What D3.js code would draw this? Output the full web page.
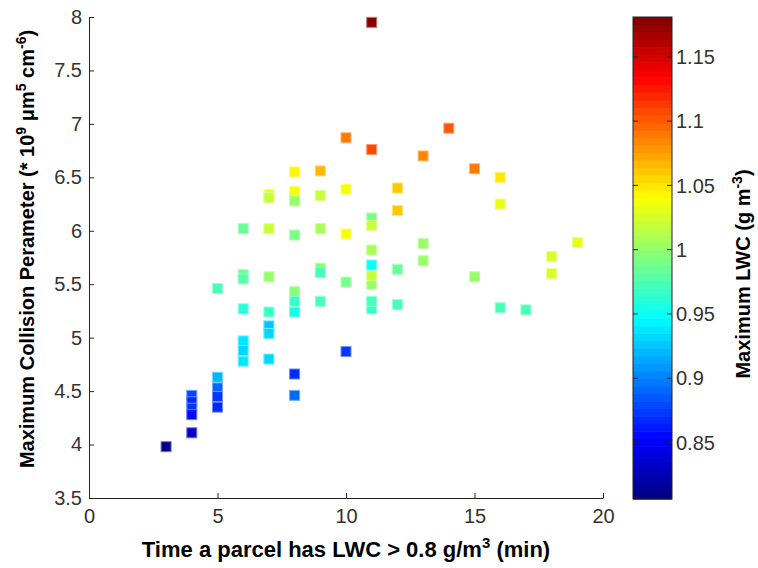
<!DOCTYPE html>
<html>
<head>
<meta charset="utf-8">
<script src="https://cdn.jsdelivr.net/npm/d3@7"></script>
<style>
  body{margin:0;background:#fff;}
  svg text{font-family:"Liberation Sans",Arial,sans-serif;}
</style>
</head>
<body>
<svg id="svg" width="758" height="568"></svg>
<script>
// time (min) each parcel has LWC > 0.8
var timeMin=[3,4,4,4,4,4,5,5,5,5,5,
  6,6,6,6,6,6,6,7,7,7,7,7,7,7,7,
  8,8,8,8,8,8,8,8,8,9,9,9,9,9,9,
  10,10,10,10,10,11,11,11,11,11,11,11,11,11,11,
  12,12,12,12,13,13,13,14,15,15,16,16,16,17,18,18,19]
// max collision parameter (*10^9)
var collisionParam=[3.98,4.46,4.40,4.34,4.28,4.11,4.63,4.53,4.45,4.35,5.46,
  6.02,5.59,5.55,5.27,4.97,4.88,4.78,6.34,6.31,6.02,5.57,5.24,5.11,5.04,4.80,
  6.55,6.37,6.28,5.96,5.43,5.34,5.24,4.66,4.46,6.56,6.33,6.02,5.65,5.61,5.34,
  6.87,6.39,5.97,5.52,4.87,7.95,6.76,6.12,6.05,5.82,5.27,5.34,5.50,5.58,5.68,
  6.40,6.19,5.64,5.31,6.70,5.88,5.72,6.96,6.58,5.57,6.50,6.25,5.28,5.26,5.76,5.60,5.89]
// max LWC (g m-3), colour
var maxLWC=[0.81,0.88,0.87,0.875,0.855,0.835,0.92,0.89,0.875,0.87,0.975,
  0.985,0.985,0.98,0.96,0.94,0.93,0.935,1.04,1.02,1.02,1.0,0.97,0.925,0.93,0.93,
  1.045,1.04,1.0,0.99,0.995,0.97,0.955,0.865,0.89,1.065,1.02,1.01,0.995,0.975,0.975,
  1.09,1.04,1.04,0.99,0.875,1.18,1.105,0.99,1.02,1.01,0.97,0.975,1.0,1.02,0.947,
  1.06,1.06,0.985,0.975,1.085,1.0,1.0,1.10,1.09,1.005,1.05,1.03,0.975,0.975,1.025,1.025,1.03]

var xTicks=[0,5,10,15,20]
var yTicks=[3.5,4,4.5,5,5.5,6,6.5,7,7.5,8]
var cbTicks=[0.85,0.9,0.95,1,1.05,1.1,1.15]
var cMin=0.806,cMax=1.181

var svg=d3.select("#svg")
var mLeft=89,mRight=603,mTop=17,mBottom=498

var x=d3.scaleLinear().domain([0,20]).range([mLeft,mRight])
var y=d3.scaleLinear().domain([3.5,8]).range([mBottom,mTop])

//matlab jet, 64 steps
function jet(v){
  var t=(v-cMin)/(cMax-cMin)
  t=Math.max(0,Math.min(0.9999,t))
  var f=(Math.floor(t*64)+0.5)/64
  var cl=a=>Math.max(0,Math.min(1,a))
  return d3.rgb(255*cl(1.5-Math.abs(4*f-3)),255*cl(1.5-Math.abs(4*f-2)),255*cl(1.5-Math.abs(4*f-1)))+""
}

//axes
var xAxis=svg.append("g")
    .attr("transform","translate(0,"+mBottom+")")
    .call(d3.axisBottom(x).tickValues(xTicks).tickSizeInner(-5).tickSizeOuter(0).tickPadding(11).tickFormat(d3.format("d")))
var yAxis=svg.append("g")
    .attr("transform","translate("+mLeft+",0)")
    .call(d3.axisLeft(y).tickValues(yTicks).tickSizeInner(-5).tickSizeOuter(0).tickPadding(7).tickFormat(d=>d))

svg.selectAll(".domain").attr("stroke","#222")
svg.selectAll(".tick line").attr("stroke","#222")
svg.selectAll(".tick text").style("font-size","20px").attr("fill","#333")
xAxis.selectAll(".tick text").attr("dy","0.72em")

//points
var pts=timeMin.map((t,i)=>({t:t,p:collisionParam[i],c:maxLWC[i]}))
var s=10
svg.append("g").selectAll("rect")
    .data(pts)
    .enter().append("rect")
      .attr("x",d=>x(d.t)-s/2)
      .attr("y",d=>y(d.p)-s/2)
      .attr("width",s)
      .attr("height",s)
      .attr("fill",d=>jet(d.c))
      .attr("stroke",d=>d3.interpolateRgb(jet(d.c),"#fff")(0.45))
      .attr("stroke-width",1)

//colorbar
var cbX=633,cbW=39,cbTop=17,cbBot=499
var cy=d3.scaleLinear().domain([cMin,cMax]).range([cbBot,cbTop])
var steps=d3.range(64).map(i=>cMin+(cMax-cMin)*i/64)
var cb=svg.append("g")
cb.selectAll("rect")
    .data(steps)
    .enter().append("rect")
      .attr("x",cbX)
      .attr("y",d=>cy(d+(cMax-cMin)/64))
      .attr("width",cbW)
      .attr("height",(cbBot-cbTop)/64+0.6)
      .attr("fill",d=>jet(d+(cMax-cMin)/128))
cb.append("rect")
    .attr("x",cbX).attr("y",cbTop).attr("width",cbW).attr("height",cbBot-cbTop)
    .attr("fill","none").attr("stroke","#222")
var cbTick=cb.selectAll(".cbt")
    .data(cbTicks)
    .enter().append("g")
      .attr("transform",d=>"translate(0,"+cy(d)+")")
cbTick.append("line").attr("x1",cbX).attr("x2",cbX+5).attr("stroke","#222")
cbTick.append("line").attr("x1",cbX+cbW-5).attr("x2",cbX+cbW).attr("stroke","#222")
cbTick.append("text")
    .text(d=>d)
    .attr("x",cbX+cbW+4)
    .attr("dy","0.36em")
    .style("font-size","20px")
    .attr("fill","#333")

//labels
svg.append("text")
    .attr("x",(mLeft+mRight)/2).attr("y",557)
    .attr("text-anchor","middle")
    .style("font-size","22px").style("font-weight","bold")
    .html('Time a parcel has LWC &gt; 0.8 g/m<tspan dy="-9" font-size="15px">3</tspan><tspan dy="9"> (min)</tspan>')

svg.append("text")
    .attr("transform","translate(34,249) rotate(-90)")
    .attr("text-anchor","middle")
    .style("font-size","20px").style("font-weight","bold")
    .html('Maximum Collision Perameter (* 10<tspan dy="-8" font-size="14px">9</tspan><tspan dy="8"> \u03bcm</tspan><tspan dy="-8" font-size="14px">5</tspan><tspan dy="8"> cm</tspan><tspan dy="-8" font-size="14px">-6</tspan><tspan dy="8">)</tspan>')

svg.append("text")
    .attr("transform","translate(750,274) rotate(-90)")
    .attr("text-anchor","middle")
    .style("font-size","20px").style("font-weight","bold")
    .html('Maximum LWC (g m<tspan dy="-8" font-size="14px">-3</tspan><tspan dy="8">)</tspan>')
</script>
</body>
</html>
